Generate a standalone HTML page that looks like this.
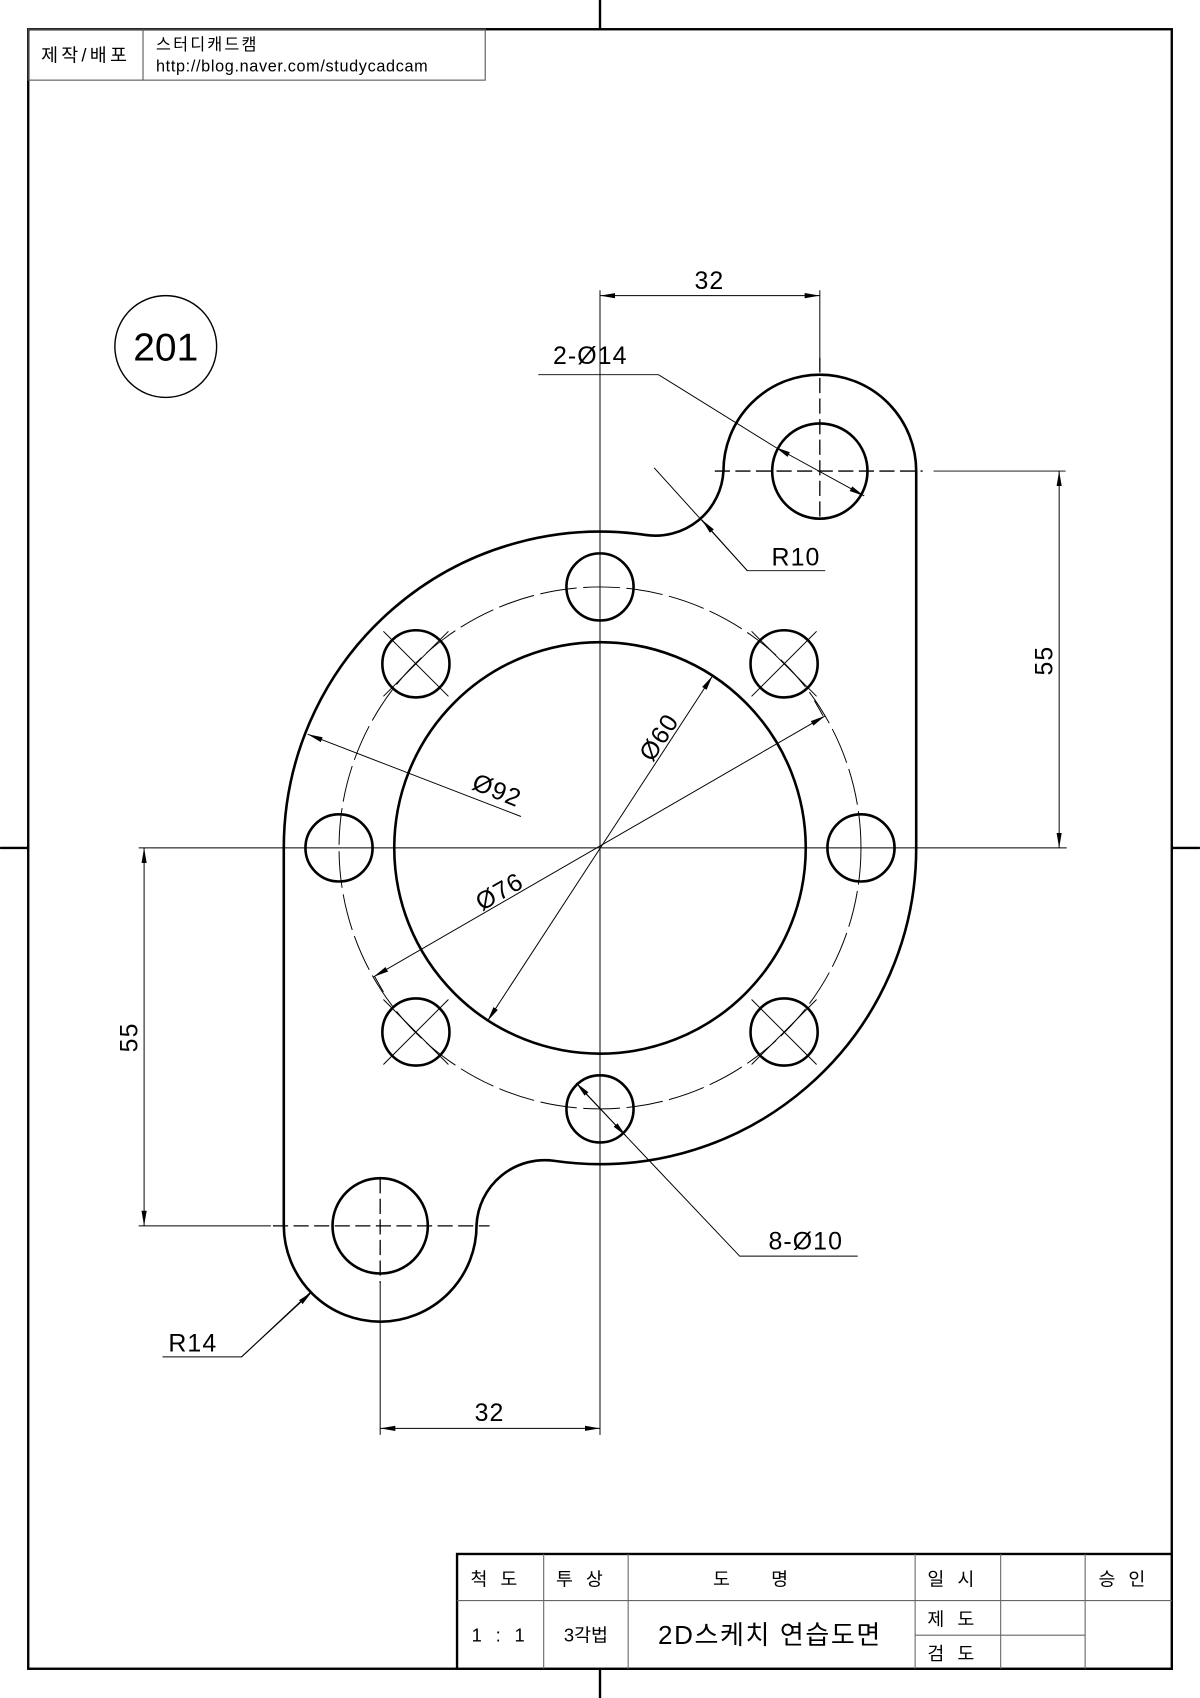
<!DOCTYPE html>
<html><head><meta charset="utf-8"><style>
html,body{margin:0;padding:0;background:#fff;}
svg{display:block;}
text{font-family:"Liberation Sans","Noto Sans CJK KR",sans-serif;fill:#000;}
</style></head><body>
<svg width="1200" height="1698" viewBox="0 0 1108 1568" xmlns="http://www.w3.org/2000/svg">
<defs>
<marker id="a" viewBox="0 0 14 14" refX="14" refY="7" markerWidth="14" markerHeight="14" markerUnits="userSpaceOnUse" orient="auto-start-reverse"><path d="M0,4.6 L14,7 L0,9.4 Z" fill="#000"/></marker>
</defs>
<rect x="26" y="27" width="1056" height="1514" fill="none" stroke="#000" stroke-width="2.2"/>
<g stroke="#000" stroke-width="2.2">
<line x1="554" y1="0" x2="554" y2="27"/><line x1="554" y1="1541" x2="554" y2="1568"/>
<line x1="0" y1="783" x2="26" y2="783"/><line x1="1082" y1="783" x2="1108" y2="783"/>
</g>
<g fill="none" stroke="#555" stroke-width="1">
<rect x="26" y="27" width="422" height="47"/><line x1="132" y1="27" x2="132" y2="74"/>
</g>
<text x="79" y="57" font-size="17" text-anchor="middle" letter-spacing="3">제작/배포</text>
<text x="144" y="46" font-size="15" letter-spacing="2">스터디캐드캠</text>
<text x="144" y="66" font-size="15" letter-spacing="0.6">http://blog.naver.com/studycadcam</text>
<circle cx="153" cy="320" r="47" fill="none" stroke="#000" stroke-width="1.3"/>
<text x="153" y="333" font-size="36" text-anchor="middle">201</text>

<g stroke="#000" stroke-width="0.9" fill="none">
<line x1="554" y1="268" x2="554" y2="1325"/>
<line x1="128" y1="783" x2="985" y2="783"/>
<line x1="757" y1="268" x2="757" y2="330"/>
<line x1="862" y1="435" x2="984" y2="435"/>
<line x1="128" y1="1132" x2="250" y2="1132"/>
<line x1="351" y1="1185" x2="351" y2="1325"/>
<circle cx="554" cy="783" r="241" stroke-dasharray="34 6"/>
<line x1="660" y1="435" x2="852" y2="435" stroke-dasharray="14 5" stroke-width="1.2"/>
<line x1="757" y1="330" x2="757" y2="480" stroke-dasharray="14 5" stroke-width="1.2"/>
<line x1="252" y1="1132" x2="452" y2="1132" stroke-dasharray="14 5" stroke-width="1.2"/>
<line x1="351" y1="1088" x2="351" y2="1185" stroke-dasharray="14 5" stroke-width="1.2"/>
<path d="M354,583 L414,643 M354,643 L414,583 M694,583 L754,643 M694,643 L754,583 M354,923 L414,983 M354,983 L414,923 M694,923 L754,983 M694,983 L754,923"/>
<line x1="554" y1="273" x2="757" y2="273" marker-start="url(#a)" marker-end="url(#a)"/>
<line x1="978" y1="435" x2="978" y2="783" marker-start="url(#a)" marker-end="url(#a)"/>
<line x1="133" y1="783" x2="133" y2="1132" marker-start="url(#a)" marker-end="url(#a)"/>
<line x1="351" y1="1319" x2="554" y2="1319" marker-start="url(#a)" marker-end="url(#a)"/>
<polyline points="497,346 608,346 716,413"/>
<line x1="716" y1="413" x2="798" y2="458" marker-start="url(#a)" marker-end="url(#a)"/>
<polyline points="762,527 690,527 604,432"/>
<line x1="690" y1="527" x2="648" y2="480" marker-end="url(#a)"/>
<polyline points="150,1253 223,1253 287,1193"/>
<line x1="223" y1="1253" x2="288" y2="1193" marker-end="url(#a)"/>
<polyline points="792,1160 683,1160 576,1047"/>
<line x1="576" y1="1047" x2="532" y2="1000" marker-end="url(#a)"/>
<line x1="540" y1="1009" x2="578" y2="1049" marker-end="url(#a)"/>
<line x1="481" y1="754" x2="284" y2="678" marker-end="url(#a)"/>
<line x1="345" y1="902" x2="762" y2="661" marker-start="url(#a)" marker-end="url(#a)"/>
<line x1="346" y1="902" x2="354" y2="916"/><line x1="760" y1="661" x2="752" y2="647"/>
<line x1="450" y1="943" x2="658" y2="624" marker-start="url(#a)" marker-end="url(#a)"/>
</g>

<g stroke="#000" stroke-width="2.4" fill="none">
<path d="M846,435 L846,783 A292 292 0 0 1 512,1072 A63 63 0 0 0 440,1131 A89 89 0 0 1 262,1132 L262,783 A292 292 0 0 1 596,494 A63 63 0 0 0 668,435 A89 89 0 0 1 846,435 Z"/>
<circle cx="554" cy="783" r="190"/>
<circle cx="757" cy="435" r="44"/>
<circle cx="351" cy="1132" r="44"/>
<circle cx="554" cy="542" r="31"/>
<circle cx="554" cy="1024" r="31"/>
<circle cx="313" cy="783" r="31"/>
<circle cx="795" cy="783" r="31"/>
<circle cx="384" cy="613" r="31"/>
<circle cx="724" cy="613" r="31"/>
<circle cx="384" cy="953" r="31"/>
<circle cx="724" cy="953" r="31"/>
</g>

<g font-size="23" letter-spacing="1">
<text x="655" y="267" text-anchor="middle">32</text>
<text x="452" y="1312" text-anchor="middle">32</text>
<text x="545" y="336" text-anchor="middle">2-Ø14</text>
<text x="735" y="522" text-anchor="middle">R10</text>
<text x="178" y="1248" text-anchor="middle">R14</text>
<text x="744" y="1154" text-anchor="middle">8-Ø10</text>
<text transform="translate(972,610) rotate(-90)" text-anchor="middle">55</text>
<text transform="translate(127,958) rotate(-90)" text-anchor="middle">55</text>
<text transform="translate(456,737) rotate(22)" text-anchor="middle">Ø92</text>
<text transform="translate(465,830) rotate(-30)" text-anchor="middle">Ø76</text>
<text transform="translate(615,685) rotate(-57)" text-anchor="middle">Ø60</text>
</g>

<rect x="422" y="1435" width="660" height="106" fill="#fff" stroke="#000" stroke-width="2.2"/>
<g stroke="#666" stroke-width="1" fill="none">
<line x1="422" y1="1478" x2="1082" y2="1478"/>
<line x1="502" y1="1435" x2="502" y2="1541"/>
<line x1="580" y1="1435" x2="580" y2="1541"/>
<line x1="845" y1="1435" x2="845" y2="1541"/>
<line x1="924" y1="1435" x2="924" y2="1541"/>
<line x1="1002" y1="1435" x2="1002" y2="1541"/>
<line x1="845" y1="1510" x2="1002" y2="1510"/>
</g>
<g font-size="17" text-anchor="middle">
<text x="462" y="1464" letter-spacing="12">척도</text>
<text x="541" y="1464" letter-spacing="12">투상</text>
<text x="712" y="1464" letter-spacing="38">도명</text>
<text x="884" y="1464" letter-spacing="12">일시</text>
<text x="1042" y="1464" letter-spacing="12">승인</text>
<text x="462" y="1516" letter-spacing="4">1 : 1</text>
<text x="541" y="1516">3각법</text>
<text x="884" y="1501" letter-spacing="12">제도</text>
<text x="884" y="1533" letter-spacing="12">검도</text>
</g>
<text x="711" y="1518" font-size="24" text-anchor="middle" letter-spacing="1.5">2D스케치 연습도면</text>
</svg>
</body></html>
